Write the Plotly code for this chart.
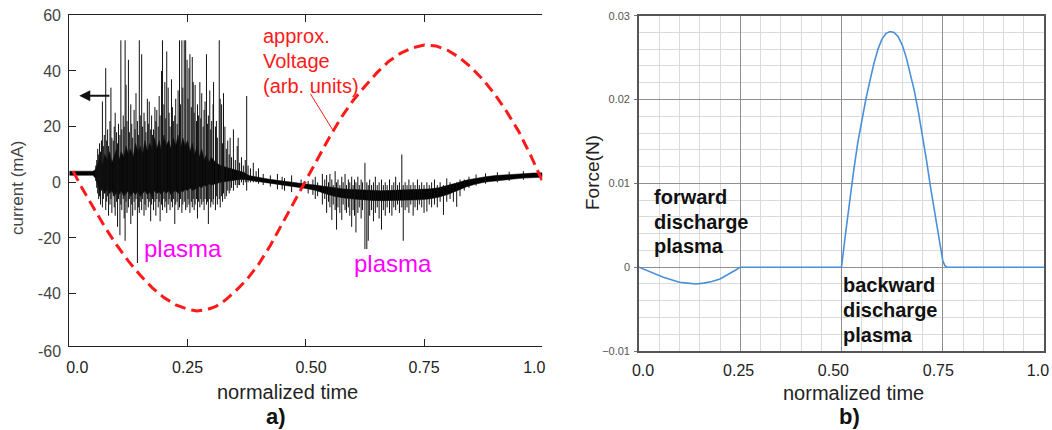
import plotly.graph_objects as go

W, H = 1052, 430

# ---------------- panel a) data ----------------
# dense core of the current trace (mA) : time, upper edge, lower edge
core_t = [0, 0.05, 0.055, 0.06, 0.065, 0.07, 0.075, 0.08, 0.085, 0.09, 0.095, 0.10, 0.105, 0.11,
          0.115, 0.12, 0.125, 0.13, 0.135, 0.14, 0.145, 0.15, 0.155, 0.16, 0.165, 0.17, 0.175,
          0.18, 0.185, 0.19, 0.195, 0.20, 0.205, 0.21, 0.215, 0.22, 0.225, 0.23, 0.235, 0.24,
          0.245, 0.25, 0.255, 0.26, 0.265, 0.27, 0.275, 0.28, 0.285, 0.29, 0.295, 0.30, 0.31,
          0.32, 0.33, 0.34, 0.35, 0.36, 0.37, 0.38, 0.40, 0.42, 0.44, 0.46, 0.48, 0.50, 0.52,
          0.54, 0.56, 0.58, 0.60, 0.62, 0.64, 0.66, 0.68, 0.70, 0.72, 0.74, 0.76, 0.78, 0.80,
          0.82, 0.84, 0.86, 0.88, 0.90, 0.92, 0.94, 0.96, 0.98, 1.0]
core_hi = [4.0, 4.0, 4.5, 7, 9, 6, 10, 8, 11, 7, 10, 12, 8, 11,
           9, 13, 10, 12, 9, 14, 11, 13, 10, 15, 11, 14, 12,
           16, 12, 15, 11, 17, 13, 15, 12, 16, 13, 17, 12, 16,
           13, 15, 11, 14, 10, 13, 9, 12, 8, 10, 7, 9, 7,
           6, 5.5, 5, 4.5, 4, 3.5, 2.4, 1.7, 1.2, 0.7, 0.2, -0.2, -0.6, -1.0,
           -1.5, -2.0, -2.4, -2.6, -2.8, -2.9, -3.0, -2.9, -2.8, -2.7, -2.6, -2.4, -2.0, -1.2,
           -0.2, 0.8, 1.5, 2.0, 2.4, 2.7, 2.9, 3.1, 3.3, 3.4]
core_lo = [2.5, 2.5, 1.5, -1, -3, -2, -4, -2.5, -4, -3, -5, -3.5, -4.5, -3,
           -5, -4, -3, -5, -3.5, -4.5, -3, -5, -4, -3, -4.5, -3.5, -5,
           -3, -4, -3.5, -4.5, -3, -4, -3, -4.5, -3.5, -3, -4, -3, -3.5,
           -2.5, -3, -2, -3, -2.5, -2, -1.5, -2, -1, -1.5, -0.5, -1, -0.5,
           0, 0.3, 0.5, 0.8, 1.0, 1.0, 0.6, 0.1, -0.4, -0.8, -1.2, -1.7, -2.2, -2.9,
           -4.0, -5.0, -5.6, -6.0, -6.3, -6.5, -6.6, -6.6, -6.5, -6.4, -6.3, -6.0, -5.4, -4.4,
           -3.0, -1.6, -0.6, 0.1, 0.5, 0.9, 1.2, 1.5, 1.7, 1.8]

# individual current spikes: time, top (mA), bottom (mA)
spike_t = [0.056, 0.058, 0.060, 0.062, 0.064, 0.066, 0.068, 0.070, 0.072, 0.074, 0.077, 0.079, 0.081,
           0.083, 0.086, 0.088, 0.090, 0.093, 0.095, 0.097, 0.100, 0.102, 0.104, 0.107, 0.109, 0.111,
           0.114, 0.116, 0.118, 0.120, 0.122, 0.125, 0.127, 0.130, 0.132, 0.134, 0.137, 0.139, 0.141,
           0.144, 0.146, 0.148, 0.150, 0.153, 0.155, 0.158, 0.160, 0.162, 0.165, 0.167, 0.169, 0.172,
           0.174, 0.176, 0.178, 0.181, 0.183, 0.185, 0.188, 0.190, 0.192, 0.195, 0.197, 0.200, 0.202,
           0.204, 0.206, 0.209, 0.211, 0.213, 0.216, 0.218, 0.220, 0.223, 0.225, 0.228, 0.230, 0.233,
           0.235, 0.238, 0.240, 0.243, 0.246, 0.249, 0.251, 0.253, 0.255, 0.258, 0.260, 0.262, 0.264,
           0.266, 0.269, 0.271, 0.273, 0.276, 0.278, 0.280, 0.283, 0.285, 0.287, 0.290, 0.292, 0.294,
           0.297, 0.299, 0.301, 0.304, 0.305, 0.309, 0.311, 0.313, 0.317, 0.319, 0.322, 0.324, 0.326,
           0.329, 0.332, 0.335, 0.338, 0.340, 0.343, 0.347, 0.351, 0.355, 0.357, 0.360, 0.364, 0.368,
           0.372, 0.375, 0.378, 0.383, 0.389, 0.395, 0.400, 0.410, 0.425, 0.440, 0.450, 0.455, 0.470,
           0.490, 0.505, 0.515, 0.520, 0.525,
           0.535, 0.540, 0.544, 0.548, 0.551, 0.555, 0.558, 0.562, 0.565, 0.568, 0.572, 0.576, 0.579,
           0.583, 0.586, 0.590, 0.593, 0.597, 0.600, 0.603, 0.606, 0.610, 0.613, 0.617, 0.620, 0.625,
           0.629, 0.632, 0.635, 0.639, 0.643, 0.647, 0.651, 0.655, 0.660, 0.664, 0.668, 0.672, 0.677,
           0.682, 0.686, 0.690, 0.694, 0.698, 0.703, 0.706, 0.710, 0.714, 0.718, 0.722, 0.727, 0.731,
           0.736, 0.740, 0.745, 0.750, 0.756, 0.761, 0.766, 0.772, 0.778, 0.784, 0.791, 0.798, 0.805,
           0.812, 0.819, 0.826, 0.835, 0.845, 0.860, 0.880, 0.905, 0.930, 0.960]
spike_hi = [6, 8, 12, 10, 14, 11, 15, 29, 13, 17, 41, 15, 19,
            13, 22, 34, 16, 15, 20, 25, 18, 14, 21, 17, 51, 19,
            24, 20, 51, 35, 22, 44, 18, 28, 21, 16, 26, 19, 32,
            22, 17, 51, 24, 46, 20, 25, 22, 18, 30, 21, 29, 19,
            24, 17, 19, 27, 22, 26, 20, 31, 24, 40, 51, 28, 36,
            23, 47, 34, 25, 20, 37, 27, 22, 24, 30, 21, 33, 51,
            28, 51, 34, 51, 51, 44, 30, 41, 46, 27, 45, 36, 25,
            35, 22, 28, 24, 36, 23, 32, 20, 26, 29, 46, 21, 24,
            33, 19, 22, 28, 36, 20, 22, 16, 51, 30, 28, 14, 32,
            20, 12, 15, 10, 16, 9, 19, 8, 13, 16, 7, 9, 6,
            8, 31, 6, 5, 7, 4, 5, 3, 2.5, 3, 2, 1.5, 2.5,
            1, 0.5, 1, 2, 0,
            3, 1, 2.6, 0, 3, 1, -1, 4, 0, 1, -1, 2, 0,
            3, -1, 1, 0, 2, -1, 1, 0, 2, -1, 1, 0, 7,
            0, -1, 1, -1, 0, 2, -1, 0, 1, -1, 0, -1, 1,
            -1, 0, 2, -1, 0, 10, -1, 0, -1, 1, -1, 0, -1,
            1, -1, 0, -1, 0, -1, 0, 1, -1, 0, -1, 1.4, 0,
            -1, 0, 1, 1, 2, 2.8, 3.2, 3.6, 3.8, 4.0]
spike_lo = [0.5, -2, -4, -6, -5, -8, -3, -9, -6, -4, -10, -7, -5,
            -12, -8, -6, -11, -5, -9, -12, -7, -16, -6, -19, -8, -10,
            -6, -13, -21, -7, -11, -9, -6, -15, -8, -12, -7, -10, -6,
            -29, -9, -11, -7, -10, -6, -12, -8, -10, -6, -9, -7, -14,
            -8, -6, -10, -7, -12, -6, -9, -7, -14, -8, -10, -6, -9,
            -7, -11, -8, -6, -10, -7, -9, -6, -15, -8, -7, -10, -9,
            -6, -11, -8, -7, -10, -9, -6, -8, -11, -7, -9, -6, -10,
            -8, -6, -13, -7, -9, -6, -8, -7, -10, -6, -8, -7, -15,
            -6, -9, -7, -8, -6, -10, -5, -8, -6, -9, -5, -7, -4,
            -6, -5, -3, -4, -3, -2, -3, -1, -2, -1, -1, 0, -1,
            0, -3, 0, 0, 0, 0, -0.5, -1, -1.5, -2.5, -2.5, -3, -3.5,
            -3, -4, -4.5, -6, -5,
            -8, -6, -11, -7, -9, -13.5, -8, -10, -17, -9, -11, -13.5, -8,
            -10, -11, -9, -12, -16, -10, -12, -18, -11, -9, -13, -10, -24,
            -24, -21, -12, -10, -14, -11, -9, -13, -17, -10, -12, -9, -11,
            -12, -9, -10, -8, -11, -9, -21, -10, -9, -11, -8, -12, -9,
            -10, -8, -9, -11, -10.5, -8, -9, -8, -9, -7, -11.7, -7, -6,
            -7, -8.8, -5, -3, -2, -1.2, -0.5, 0, 0.5, 0.9]

# approximate applied voltage (arb. units, plotted on the mA scale)
volt_t = [0.008, 0.025, 0.05, 0.075, 0.1, 0.125, 0.15, 0.175, 0.2, 0.225, 0.25, 0.27, 0.29, 0.31,
          0.33, 0.35, 0.375, 0.4, 0.425, 0.45, 0.475, 0.5, 0.525, 0.55, 0.575, 0.6, 0.625, 0.65,
          0.675, 0.7, 0.725, 0.75, 0.775, 0.8, 0.825, 0.85, 0.875, 0.9, 0.925, 0.95, 0.975, 0.99, 1.0]
volt_v = [4.0, -1.5, -8.8, -16, -22.5, -28.3, -33.4, -37.8, -41.4, -44.0, -45.6, -46.2, -45.8, -44.6,
          -42.3, -39.3, -35, -29.5, -22.7, -15, -7, 0.5, 8.5, 16.2, 23.3, 29.4, 34.5, 39.3,
          43.4, 46.3, 48.3, 49.3, 49.0, 47.4, 44.8, 41.2, 36.8, 31.5, 25.3, 18.3, 9.8, 4.0, 0.5]

# ---------------- panel b) data ----------------
force_t = [0, 0.02, 0.04, 0.06, 0.08, 0.10, 0.12, 0.14, 0.16, 0.18, 0.20, 0.22, 0.24, 0.25,
           0.50, 0.51, 0.52, 0.53, 0.54, 0.55, 0.56, 0.57, 0.58, 0.59, 0.60, 0.61, 0.62, 0.63,
           0.64, 0.65, 0.66, 0.67, 0.68, 0.69, 0.70, 0.71, 0.72, 0.73, 0.74, 0.75, 0.755, 0.76, 1.0]
force_v = [0, -0.0004, -0.0008, -0.0012, -0.0015, -0.0018, -0.0019, -0.0020, -0.0019, -0.0017,
           -0.0014, -0.0009, -0.0003, 0, 0, 0.004, 0.008, 0.0115, 0.0148, 0.0175, 0.0200, 0.0222,
           0.0243, 0.0260, 0.0272, 0.0279, 0.0281, 0.0280, 0.0275, 0.0265, 0.0250, 0.0230, 0.0210,
           0.0185, 0.0157, 0.0127, 0.0095, 0.0065, 0.0035, 0.0008, 0.0002, 0, 0]

# ---------------- tick labels ----------------
time_tick_text = ["0.0", "0.25", "0.50", "0.75", "1.0"]
a_time_label_pos = [0.017, 0.25, 0.511, 0.75, 0.983]
b_time_label_pos = [0.010, 0.246, 0.480, 0.739, 0.985]
a_y_ticks = [-40, -20, 0, 20, 40, 60]
a_y_tick_text = ["-40", "-20", "0", "20", "40", "60"]

FONT = "Liberation Sans, Arial, Helvetica, sans-serif"

# ---------------- figure ----------------
fig = go.Figure()

sx, sy = [], []
for t, hi, lo in zip(spike_t, spike_hi, spike_lo):
    sx += [t, t, None]
    sy += [lo, hi, None]

fig.add_trace(go.Scatter(x=core_t + core_t[::-1], y=core_hi + core_lo[::-1], fill="toself",
                         fillcolor="#000000", mode="lines", line=dict(color="#000000", width=0.5),
                         xaxis="x", yaxis="y", showlegend=False, hoverinfo="skip"))
fig.add_trace(go.Scatter(x=sx, y=sy, mode="lines", line=dict(color="#111111", width=1),
                         xaxis="x", yaxis="y", showlegend=False, connectgaps=False))
fig.add_trace(go.Scatter(x=volt_t, y=volt_v, mode="lines",
                         line=dict(color="#ff1a1a", width=3, dash="11px,6px"),
                         xaxis="x", yaxis="y", showlegend=False))
fig.add_trace(go.Scatter(x=force_t, y=force_v, mode="lines",
                         line=dict(color="#4a90d9", width=1.6),
                         xaxis="x2", yaxis="y3", showlegend=False))
# empty traces so the label-only overlay axes are drawn
fig.add_trace(go.Scatter(x=[], y=[], xaxis="x3", yaxis="y", showlegend=False))
fig.add_trace(go.Scatter(x=[], y=[], xaxis="x4", yaxis="y3", showlegend=False))

ax_dom = [69.3 / W, 542.3 / W]
ay_dom = [1 - 346 / H, 1 - 14.7 / H]
bx_dom = [639 / W, 1044 / W]
by_dom = [1 - 351 / H, 1 - 15.7 / H]
a_yr = [-58.8, 60.2]

fig.update_layout(
    width=W, height=H, margin=dict(l=0, r=0, t=0, b=0, autoexpand=False),
    paper_bgcolor="white", plot_bgcolor="white",
    font=dict(family=FONT, color="#222"),
    xaxis=dict(domain=ax_dom, range=[0, 1], anchor="y", showline=True, linecolor="#222",
               linewidth=1.3, mirror="ticks", ticks="inside", ticklen=7, tickcolor="#222",
               tickvals=[0.25, 0.5, 0.75], showticklabels=False, showgrid=False, zeroline=False,
               automargin=False),
    yaxis=dict(domain=ay_dom, range=a_yr, anchor="x", showline=True, linecolor="#222",
               linewidth=1.3, ticks="inside", ticklen=7, tickcolor="#222",
               tickvals=a_y_ticks, ticktext=a_y_tick_text, tickfont=dict(size=16, color="#444"),
               ticklabelstandoff=4, showgrid=False, zeroline=False, automargin=False),
    yaxis2=dict(overlaying="y", side="right", anchor="x", range=a_yr, showline=True,
                linecolor="#222", linewidth=1.3, ticks="inside", ticklen=7, tickcolor="#222",
                tickvals=[-30, 0, 30], showticklabels=False, showgrid=False, zeroline=False,
                automargin=False),
    xaxis3=dict(overlaying="x", anchor="y", side="bottom", range=[0, 1], showline=False,
                ticks="", tickvals=a_time_label_pos, ticktext=time_tick_text,
                tickfont=dict(size=16, color="#222"), ticklabelstandoff=10,
                showgrid=False, zeroline=False, automargin=False),
    xaxis2=dict(domain=bx_dom, range=[0, 1], anchor="y3", tickmode="linear", tick0=0, dtick=0.25,
                showgrid=True, gridcolor="#8f8f8f", gridwidth=1.2,
                minor=dict(dtick=0.05, showgrid=True, gridcolor="#dadada", gridwidth=1),
                showline=True, mirror=True, linecolor="#555", linewidth=1.6,
                showticklabels=False, ticks="", zeroline=False, automargin=False),
    yaxis3=dict(domain=by_dom, range=[-0.01, 0.03], anchor="x2", tickmode="linear", tick0=0,
                dtick=0.01, showgrid=True, gridcolor="#8f8f8f", gridwidth=1.2,
                minor=dict(dtick=0.002, showgrid=True, gridcolor="#dadada", gridwidth=1),
                showline=True, mirror=True, linecolor="#555", linewidth=1.6,
                ticks="outside", ticklen=3, tickcolor="#777",
                tickfont=dict(size=11, color="#555"), ticklabelstandoff=2, zeroline=False,
                automargin=False),
    xaxis4=dict(overlaying="x2", anchor="y3", side="bottom", range=[0, 1], showline=False,
                ticks="", tickvals=b_time_label_pos, ticktext=time_tick_text,
                tickfont=dict(size=16, color="#222"), ticklabelstandoff=8,
                showgrid=False, zeroline=False, automargin=False),
)


def px(x):
    return x / W


def py(y):
    return 1 - y / H


anns = []


def txt(text, x, y, size, color="#111", xanchor="left", angle=0):
    anns.append(dict(text=text, x=px(x), y=py(y), xref="paper", yref="paper",
                     xanchor=xanchor, yanchor="middle", showarrow=False, textangle=angle,
                     font=dict(family=FONT, size=size, color=color)))


for i, line in enumerate(["approx.", "Voltage", "(arb. units)"]):
    txt(line, 261, 36 + 25 * i, 20, "#ff1a1a")
txt("plasma", 142, 248, 24, "#ff00ff")
txt("plasma", 352, 263, 24, "#ff00ff")
for i, line in enumerate(["forward", "discharge", "plasma"]):
    txt("<b>%s</b>" % line, 652, 197 + 24.5 * i, 20, "#111")
for i, line in enumerate(["backward", "discharge", "plasma"]):
    txt("<b>%s</b>" % line, 841, 285 + 25 * i, 20, "#111")
txt("normalized time", 287, 392, 20, "#222", "center")
txt("normalized time", 853, 393, 20, "#222", "center")
txt("<b>a)</b>", 276, 416, 22, "#111", "center")
txt("<b>b)</b>", 849, 416, 22, "#111", "center")
txt("current (mA)", 17, 188, 17, "#444", "center", -90)
txt("Force(N)", 593, 173, 19, "#222", "center", -90)
anns.append(dict(text="-60", x=px(63), y=py(351), xref="paper", yref="paper", xanchor="right",
                 yanchor="middle", showarrow=False, font=dict(family=FONT, size=16, color="#444")))
# left-pointing arrow marking the current axis
anns.append(dict(x=0.021, y=31.1, ax=0.088, ay=31.1, xref="x", yref="y", axref="x", ayref="y",
                 text="", showarrow=True, arrowhead=2, arrowsize=1.1, arrowwidth=2,
                 arrowcolor="#111"))
fig.update_layout(annotations=anns)
fig.add_shape(type="line", xref="x", yref="y", x0=0.510, y0=31.7, x1=0.557, y1=18.8,
              line=dict(color="#ff1a1a", width=1))

fig.write_html("out.html")
